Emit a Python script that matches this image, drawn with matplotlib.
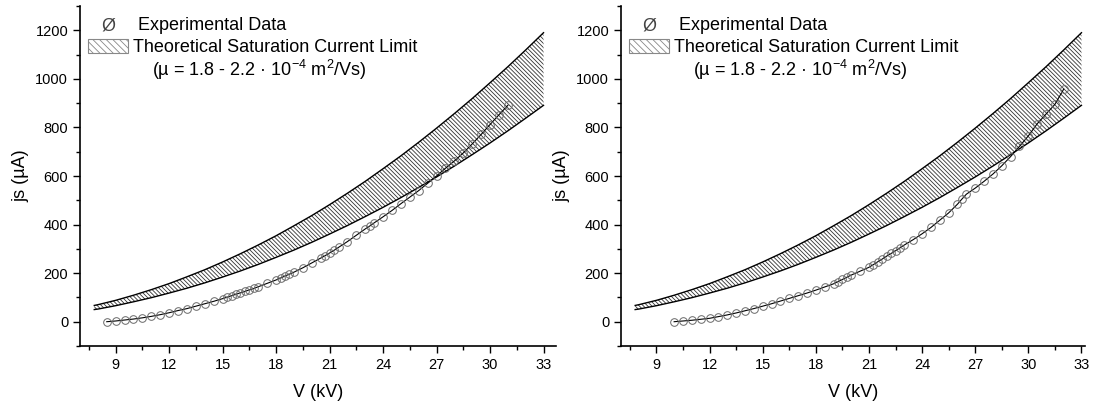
import matplotlib
matplotlib.use("Agg")
import matplotlib.pyplot as plt
from matplotlib.patches import Rectangle
from matplotlib.ticker import MultipleLocator

plt.rcParams['font.family'] = ['Liberation Sans', 'DejaVu Sans']
plt.rcParams['hatch.linewidth'] = 0.6
plt.rcParams['hatch.color'] = '#333333'
plt.rcParams['mathtext.fontset'] = 'custom'
plt.rcParams['mathtext.rm'] = 'Liberation Sans'

# theoretical band, same for both panels
V_band = [7.8, 8, 9, 10, 11, 12, 13, 14, 15, 16, 17, 18, 19, 20, 21, 22, 23,
          24, 25, 26, 27, 28, 29, 30, 31, 32, 33]
j_upper = [67, 70, 88, 109, 132, 157, 185, 214, 246, 280, 316, 354, 395, 437,
           482, 529, 578, 630, 683, 739, 797, 857, 919, 984, 1050, 1119, 1190]
j_lower = [50, 52, 66, 82, 99, 118, 138, 160, 184, 209, 236, 265, 295, 327,
           361, 396, 433, 471, 511, 553, 596, 641, 688, 736, 786, 838, 891]

# experimental data, left panel
V_left = [8.5, 9, 9.5, 10, 10.5, 11, 11.5, 12, 12.5, 13, 13.5, 14, 14.5, 15,
          15.25, 15.5, 15.75, 16, 16.25, 16.5, 16.75, 17, 17.5, 18, 18.25, 18.5,
          18.75, 19, 19.5, 20, 20.5, 20.75, 21, 21.25, 21.5, 22, 22.5, 23, 23.25,
          23.5, 24, 24.5, 25, 25.5, 26, 26.5, 27, 27.5, 28, 28.5, 29, 29.5, 30,
          30.5, 31]
j_left = [0, 3, 7, 11, 16, 22, 29, 37, 46, 54, 64, 74, 84, 95,
          101, 107, 113, 119, 125, 131, 137, 144, 158, 172, 180, 188,
          196, 204, 222, 242, 262, 272, 283, 294, 306, 330, 356, 382, 394,
          407, 432, 458, 486, 513, 540, 570, 600, 632, 662, 695, 732, 771, 812,
          852, 891]

# experimental data, right panel
V_right = [10, 10.5, 11, 11.5, 12, 12.5, 13, 13.5, 14, 14.5, 15, 15.5, 16, 16.5,
           17, 17.5, 18, 18.5, 19, 19.25, 19.5, 19.75, 20, 20.5, 21, 21.25, 21.5,
           21.75, 22, 22.25, 22.5, 22.75, 23, 23.5, 24, 24.5, 25, 25.5, 26, 26.25,
           26.5, 27, 27.5, 28, 28.5, 29, 29.5, 30, 30.5, 31, 31.5, 32]
j_right = [0, 3, 6, 10, 14, 21, 28, 36, 45, 54, 64, 74, 85, 96,
           107, 118, 130, 143, 156, 165, 174, 183, 192, 208, 224, 235, 247,
           258, 270, 281, 292, 304, 316, 338, 362, 388, 418, 448, 484, 505,
           525, 550, 578, 608, 642, 680, 722, 765, 815, 855, 895, 958]

x_ticks = [9, 12, 15, 18, 21, 24, 27, 30, 33]
y_ticks = [0, 200, 400, 600, 800, 1000, 1200]

fig = plt.figure(figsize=(11.01, 4.07), dpi=100)
ax1 = fig.add_axes([80/1101, 61/407, 476/1101, 340/407])
ax2 = fig.add_axes([621/1101, 61/407, 464/1101, 340/407])


def draw_panel(ax, V, j, xmax):
    ax.fill_between(V_band, j_lower, j_upper, facecolor='white',
                    edgecolor='#333333', hatch='\\' * 8, linewidth=0)
    ax.plot(V_band, j_upper, color='black', lw=1)
    ax.plot(V_band, j_lower, color='black', lw=1)
    ax.plot(V, j, color='black', lw=0.8, marker='o', markersize=5.5,
            markerfacecolor='none', markeredgecolor='#6a6a6a',
            markeredgewidth=0.7)

    ax.set_xlim(7, xmax)
    ax.set_ylim(-100, 1300)
    ax.set_xticks(x_ticks)
    ax.set_yticks(y_ticks)
    ax.xaxis.set_minor_locator(MultipleLocator(1.5))
    ax.yaxis.set_minor_locator(MultipleLocator(100))
    ax.tick_params(which='major', direction='out', length=5, width=1,
                   labelsize=10.5, top=False, right=False)
    ax.tick_params(which='minor', direction='out', length=3, width=1,
                   top=False, right=False)
    for s in ['top', 'right']:
        ax.spines[s].set_visible(False)
    for s in ['left', 'bottom']:
        ax.spines[s].set_linewidth(1.2)
    ax.set_xlabel('V (kV)', fontsize=13, labelpad=9)
    ax.set_ylabel('js (µA)', fontsize=13, labelpad=4)

    # legend drawn by hand
    w = ax.get_position().width * 1101
    def fx(px):
        return px / w
    ax.text(fx(28), 0.942, 'Ø', transform=ax.transAxes, fontsize=13,
            ha='center', va='center', color='#444444')
    ax.text(fx(58), 0.942, 'Experimental Data', transform=ax.transAxes,
            fontsize=13, va='center')
    ax.add_patch(Rectangle((fx(8), 0.862), fx(40), 0.041, transform=ax.transAxes,
                           facecolor='white', edgecolor='#888888', lw=0.8,
                           hatch='\\' * 5))
    ax.text(fx(53), 0.877, 'Theoretical Saturation Current Limit',
            transform=ax.transAxes, fontsize=13, va='center')
    ax.text(fx(72), 0.812, '(µ = 1.8 - 2.2 · 10$^{-4}$ m$^2$/Vs)',
            transform=ax.transAxes, fontsize=13, va='center')


draw_panel(ax1, V_left, j_left, 33.7)
draw_panel(ax2, V_right, j_right, 33.2)

fig.savefig('out.png', dpi=100)
